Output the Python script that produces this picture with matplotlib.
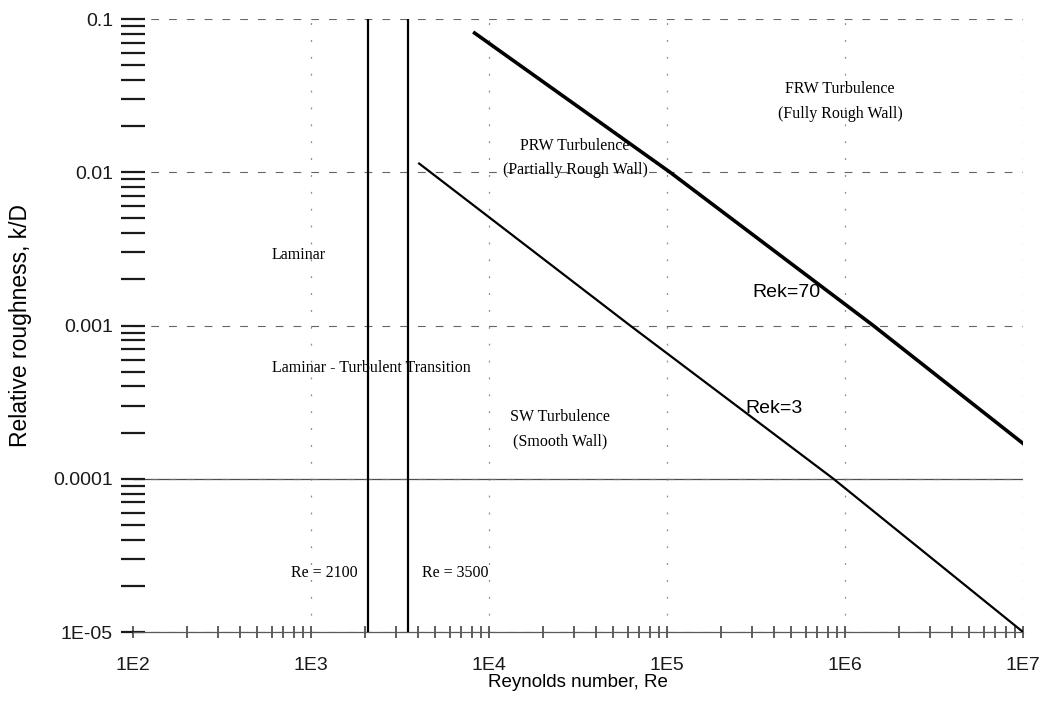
import matplotlib
matplotlib.use('Agg')
import matplotlib.pyplot as plt
from matplotlib.ticker import LogLocator, NullFormatter

# data
re_transition = [2100, 3500]
rek70_re = [8300, 1.04e5, 1.44e6, 1e7]
rek70_kd = [0.081, 0.01, 0.001, 1.7e-4]
rek3_re = [4050, 6.2e4, 8.6e5, 1e7]
rek3_kd = [0.0114, 0.001, 1e-4, 1e-5]

x_ticks = [1e2, 1e3, 1e4, 1e5, 1e6, 1e7]
x_labels = ['1E2', '1E3', '1E4', '1E5', '1E6', '1E7']
y_ticks = [1e-5, 1e-4, 1e-3, 1e-2, 1e-1]
y_labels = ['1E-05', '0.0001', '0.001', '0.01', '0.1']

serif = 'Liberation Serif'
sans = 'Liberation Sans'

fig = plt.figure(figsize=(10.5, 7.09), dpi=100)
ax = fig.add_axes([0.1267, 0.1086, 0.8476, 0.8646])
ax.set_xscale('log')
ax.set_yscale('log')
ax.set_xlim(1e2, 1e7)
ax.set_ylim(1e-5, 0.1)

# faint broken decade grid (scanned look)
ax.yaxis.grid(True, which='major', color='0.4', linestyle=(0, (7, 9)), linewidth=0.8)
ax.xaxis.grid(True, which='major', color='0.55', linestyle=(0, (1.5, 12)), linewidth=0.9)
ax.axhline(y_ticks[1], color='0.3', linewidth=0.9, zorder=1)

for re in re_transition:
    ax.plot([re, re], [1e-5, 0.1], color='black', linewidth=1.6, zorder=3)

ax.plot(rek70_re, rek70_kd, color='black', linewidth=2.6, zorder=3)
ax.plot(rek3_re, rek3_kd, color='black', linewidth=1.6, zorder=3)

for s in ['left', 'right', 'top']:
    ax.spines[s].set_visible(False)
ax.spines['bottom'].set_color('0.35')
ax.spines['bottom'].set_linewidth(0.9)

ax.set_xticks(x_ticks)
ax.set_xticklabels(x_labels)
ax.set_yticks(y_ticks)
ax.set_yticklabels(y_labels)
ax.xaxis.set_minor_locator(LogLocator(base=10, subs=range(2, 10), numticks=20))
ax.yaxis.set_minor_locator(LogLocator(base=10, subs=range(2, 10), numticks=20))
ax.xaxis.set_minor_formatter(NullFormatter())
ax.yaxis.set_minor_formatter(NullFormatter())
ax.tick_params(axis='x', which='both', direction='inout', length=8, width=1.1,
               color='0.2', labelsize=14, pad=14)
ax.tick_params(axis='y', which='both', direction='inout', length=17, width=1.6,
               color='0.1', labelsize=14, pad=6)
for lab in ax.get_xticklabels() + ax.get_yticklabels():
    lab.set_family(sans)
    lab.set_color('#1a1a1a')
ax.xaxis.get_major_ticks()[0].gridline.set_visible(False)

ax.set_xlabel('Reynolds number, Re', fontsize=13.5, family=sans, labelpad=0)
ax.set_ylabel('Relative roughness, k/D', fontsize=16.5, family=sans)
ax.yaxis.set_label_coords(-0.114, 0.5)

# region annotations
fs = 11.5
ax.text(604, 2.87e-3, 'Laminar', family=serif, fontsize=fs, va='center', ha='left')
ax.text(604, 5.3e-4, 'Laminar - Turbulent Transition', family=serif, fontsize=fs,
        va='center', ha='left')
ax.text(1837, 2.43e-5, 'Re = 2100', family=serif, fontsize=fs, va='center', ha='right')
ax.text(4210, 2.43e-5, 'Re = 3500', family=serif, fontsize=fs, va='center', ha='left')
ax.text(2.5e4, 2.12e-4, 'SW Turbulence\n(Smooth Wall)', family=serif, fontsize=fs,
        va='center', ha='center', linespacing=1.7)
ax.text(3.04e4, 0.0124, 'PRW Turbulence\n(Partially Rough Wall)', family=serif,
        fontsize=fs, va='center', ha='center', linespacing=1.7)
ax.text(9.4e5, 0.029, 'FRW Turbulence\n(Fully Rough Wall)', family=serif,
        fontsize=fs, va='center', ha='center', linespacing=1.7)
ax.text(3.0e5, 1.64e-3, 'Rek=70', family=sans, fontsize=14, va='center', ha='left')
ax.text(2.74e5, 2.87e-4, 'Rek=3', family=sans, fontsize=14, va='center', ha='left')

fig.savefig('out.png', dpi=100)
